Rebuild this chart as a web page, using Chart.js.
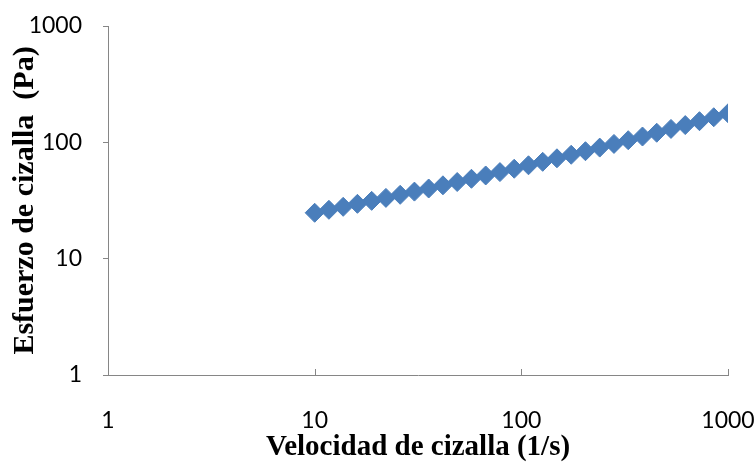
<!DOCTYPE html>
<html>
<head>
<meta charset="utf-8">
<script src="https://cdn.jsdelivr.net/npm/chart.js@4/dist/chart.umd.min.js"></script>
<style>
  html, body { margin: 0; padding: 0; background: #fff; }
  #wrap { width: 755px; height: 462px; }
</style>
</head>
<body>
<div id="wrap"><canvas id="c"></canvas></div>
<script>
// Shear rate (1/s) and shear stress (Pa) of the flow curve
const shearRate = [10, 11.72, 13.74, 16.10, 18.87, 22.12, 25.93, 30.39, 35.62, 41.75,
                   48.94, 57.36, 67.23, 78.80, 92.37, 108.3, 126.9, 148.7, 174.3, 204.3,
                   239.5, 280.7, 329.0, 385.7, 452.0, 529.8, 621.0, 727.9, 853.2, 1000];
const shearStress = [24.8, 26.3, 27.9, 29.6, 31.4, 33.3, 35.4, 37.7, 40.1, 42.7,
                     45.6, 48.6, 51.9, 55.5, 59.3, 63.5, 68.0, 72.9, 78.2, 83.9,
                     90.1, 96.9, 104.3, 112.2, 120.9, 130.4, 140.7, 152.0, 164.3, 177.7];
const xTicks = [1, 10, 100, 1000];
const yTicks = [1, 10, 100, 1000];
const xTitle = 'Velocidad de cizalla (1/s)';
const yTitle = 'Esfuerzo de cizalla  (Pa)';

const axisGrey = '#868686';
const markerBlue = '#4A7EBB';

// Short tick marks on the x axis pointing up into the plot
const innerTicks = {
  id: 'innerTicks',
  afterDraw(chart) {
    const xs = chart.scales.x, ys = chart.scales.y, ctx = chart.ctx;
    ctx.save();
    ctx.strokeStyle = axisGrey;
    ctx.lineWidth = 1;
    ctx.beginPath();
    xTicks.forEach(v => {
      const px = Math.round(xs.getPixelForValue(v)) + 0.5;
      ctx.moveTo(px, ys.bottom);
      ctx.lineTo(px, ys.bottom - 6);
    });
    ctx.stroke();
    ctx.restore();
  }
};

const tickFont = { family: 'Lato', size: 23 };
const xTitleFont = { family: 'Liberation Serif', size: 29, weight: 'bold', lineHeight: 1 };
const yTitleFont = { family: 'Liberation Serif', size: 30, weight: 'bold', lineHeight: 1 };

new Chart(document.getElementById('c'), {
  type: 'scatter',
  data: {
    datasets: [{
      data: shearRate.map((x, i) => ({ x: x, y: shearStress[i] })),
      pointStyle: 'rectRot',
      pointRadius: 9.5,
      pointBorderWidth: 1,
      backgroundColor: markerBlue,
      borderColor: markerBlue,
      showLine: false
    }]
  },
  options: {
    responsive: true,
    maintainAspectRatio: false,
    animation: false,
    devicePixelRatio: 1,
    layout: { padding: { top: 26, right: 27, left: 0, bottom: 0 } },
    plugins: { legend: { display: false }, tooltip: { enabled: false } },
    scales: {
      x: {
        type: 'logarithmic',
        min: 1,
        max: 1000,
        afterBuildTicks: s => { s.ticks = xTicks.map(v => ({ value: v })); },
        afterFit: s => { s.height = 87; s.paddingLeft = 0; s.paddingRight = 0; },
        ticks: {
          autoSkip: false, maxRotation: 0, padding: 24,
          font: tickFont, color: '#000',
          callback: v => String(v)
        },
        grid: { display: false },
        border: { display: true, color: axisGrey, width: 1 },
        title: { display: true, text: xTitle, color: '#000', font: xTitleFont, padding: { top: 0, bottom: 0 } }
      },
      y: {
        type: 'logarithmic',
        min: 1,
        max: 1000,
        afterBuildTicks: s => { s.ticks = yTicks.map(v => ({ value: v })); },
        afterFit: s => { s.width = 108; s.paddingTop = 0; s.paddingBottom = 0; },
        ticks: {
          autoSkip: false, padding: 21,
          font: tickFont, color: '#000',
          callback: v => String(v)
        },
        grid: { display: true, drawOnChartArea: false, drawTicks: true, tickLength: 5, color: axisGrey },
        border: { display: true, color: axisGrey, width: 1 },
        title: { display: true, text: yTitle, color: '#000', font: yTitleFont, padding: { top: 10, bottom: 0 } }
      }
    }
  },
  plugins: [innerTicks]
});
</script>
</body>
</html>
